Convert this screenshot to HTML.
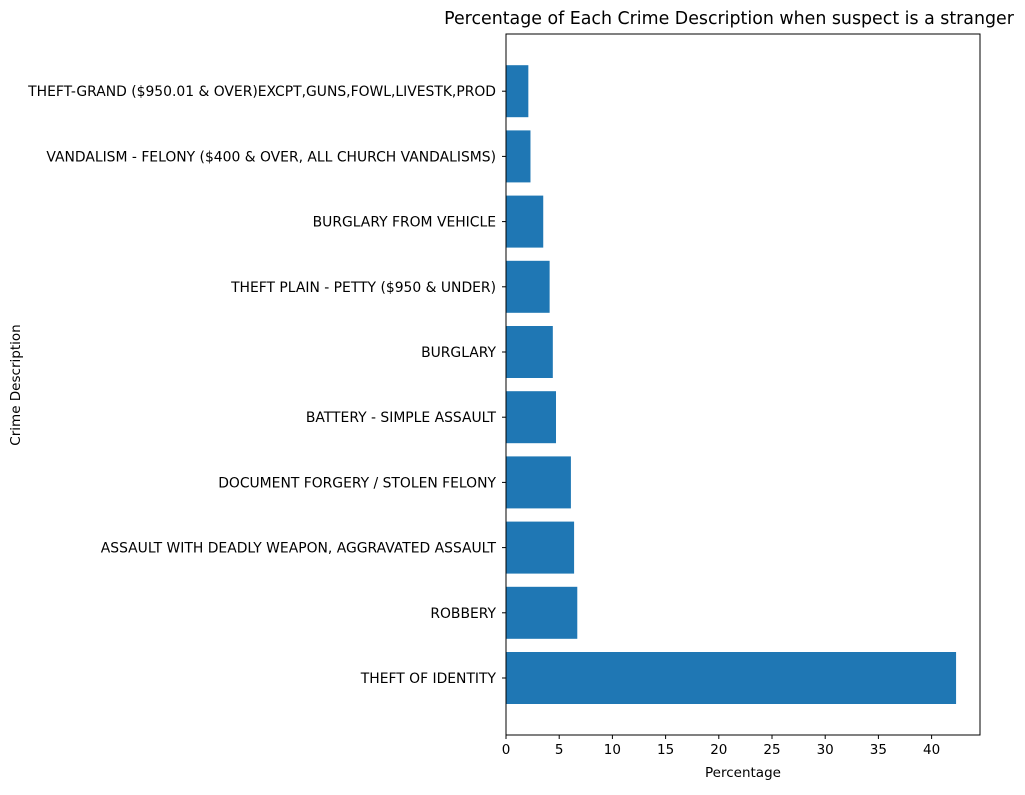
<!DOCTYPE html>
<html><head><meta charset="utf-8"><style>
body{margin:0;background:#fff;}
svg text{font-family:"DejaVu Sans","Liberation Sans",sans-serif;fill:#000;}
</style></head><body>
<svg id="chart" width="1025" height="790" xmlns="http://www.w3.org/2000/svg">
<text x="729" y="24" font-size="17.4" text-anchor="middle">Percentage of Each Crime Description when suspect is a stranger</text>
<text x="743" y="777" font-size="13.5" text-anchor="middle">Percentage</text>
<text x="20" y="385" font-size="13.5" text-anchor="middle" transform="rotate(-90 20 385)">Crime Description</text>
<g id="bars"></g><g id="xt"></g><g id="yt"></g>
<rect x="506" y="34" width="474" height="701" fill="none" stroke="#000" stroke-width="1"/>
</svg>
<script>
const categories=["THEFT OF IDENTITY","ROBBERY","ASSAULT WITH DEADLY WEAPON, AGGRAVATED ASSAULT","DOCUMENT FORGERY / STOLEN FELONY","BATTERY - SIMPLE ASSAULT","BURGLARY","THEFT PLAIN - PETTY ($950 & UNDER)","BURGLARY FROM VEHICLE","VANDALISM - FELONY ($400 & OVER, ALL CHURCH VANDALISMS)","THEFT-GRAND ($950.01 & OVER)EXCPT,GUNS,FOWL,LIVESTK,PROD"];
const values=[42.3,6.7,6.4,6.1,4.7,4.4,4.1,3.5,2.3,2.1];
const xTicks=[0,5,10,15,20,25,30,35,40];
const X0=506,PX=10.64,Y0=678,STEP=65.2;
const xs=v=>X0+v*PX, ys=i=>Y0-i*STEP;
const NS="http://www.w3.org/2000/svg";
const bars=document.getElementById('bars'),xt=document.getElementById('xt'),yt=document.getElementById('yt');
values.forEach((v,i)=>{
 const r=document.createElementNS(NS,'rect');
 r.setAttribute('x',xs(0));r.setAttribute('y',ys(i)-26);r.setAttribute('width',xs(v)-xs(0));r.setAttribute('height',52);r.setAttribute('fill','#1f77b4');
 
 
 bars.appendChild(r);
 const l=document.createElementNS(NS,'line');
 l.setAttribute('x1',502);l.setAttribute('x2',506);l.setAttribute('y1',ys(i));l.setAttribute('y2',ys(i));l.setAttribute('stroke','#000');
 yt.appendChild(l);
 const t=document.createElementNS(NS,'text');
 t.setAttribute('x',496);t.setAttribute('y',ys(i)+5);t.setAttribute('font-size','13.9');t.setAttribute('text-anchor','end');t.textContent=categories[i];
 
 
 yt.appendChild(t);
});
xTicks.forEach(v=>{
 const l=document.createElementNS(NS,'line');
 l.setAttribute('x1',xs(v));l.setAttribute('x2',xs(v));l.setAttribute('y1',735);l.setAttribute('y2',739);l.setAttribute('stroke','#000');
 xt.appendChild(l);
 const t=document.createElementNS(NS,'text');
 t.setAttribute('x',xs(v));t.setAttribute('y',754);t.setAttribute('font-size','13.5');t.setAttribute('text-anchor','middle');t.textContent=v;
 
 
 xt.appendChild(t);
});
</script>
</body></html>
